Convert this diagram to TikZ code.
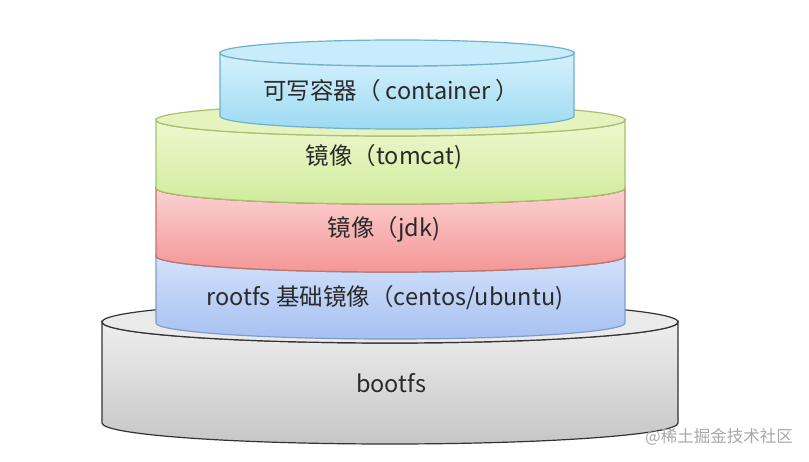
\documentclass[tikz,border=0pt]{standalone}
\usepackage{fontspec}
\setmainfont{Noto Sans CJK SC}
\definecolor{txt}{HTML}{2A2A2A}
\definecolor{wm}{HTML}{A8A8A8}
\definecolor{grayT}{HTML}{EEEEEE}
\definecolor{grayB}{HTML}{C6C6C6}
\definecolor{grayF}{HTML}{EAEAEA}
\definecolor{grayD}{HTML}{333333}
\definecolor{blueT}{HTML}{D3E1FA}
\definecolor{blueB}{HTML}{A6C1F1}
\definecolor{blueD}{HTML}{7E9BCC}
\definecolor{redT}{HTML}{FBD2D2}
\definecolor{redB}{HTML}{F49696}
\definecolor{redD}{HTML}{C07468}
\definecolor{greenT}{HTML}{EEF8CE}
\definecolor{greenB}{HTML}{D0EB9C}
\definecolor{greenF}{HTML}{E5F4BF}
\definecolor{greenD}{HTML}{A9BF72}
\definecolor{cyanT}{HTML}{D6F1FC}
\definecolor{cyanB}{HTML}{9DDAF3}
\definecolor{cyanF}{HTML}{C9ECFA}
\definecolor{cyanD}{HTML}{6FB0CE}
\newcommand\drawcyl[9]{%
  \path[top color=#6,bottom color=#7,draw=#8,line width=1.2pt]
    (#1-#2,#3) -- (#1-#2,#4)
    arc[start angle=180,end angle=0,x radius=#2,y radius=#5]
    -- (#1+#2,#3)
    arc[start angle=0,end angle=180,x radius=#2,y radius=#5] -- cycle;
  \path[fill=#9,draw=#8,line width=1.2pt] (#1,#3) ellipse[x radius=#2,y radius=#5];
}
\tikzset{
  lbl/.style={font=\fontsize{23.5}{28}\selectfont, text=txt, inner sep=0pt},
  wmark/.style={font=\fontsize{16.5}{19}\selectfont, text=wm, inner sep=0pt},
}
\begin{document}
\begin{tikzpicture}[x=1pt,y=-1pt]
\useasboundingbox[fill=white] (0,0) rectangle (809,462);
% bootfs
\drawcyl{390}{288}{322}{423}{21}{grayT}{grayB}{grayD}{grayF}
% rootfs
\drawcyl{390.5}{234.5}{256}{323}{16}{blueT}{blueB}{blueD}{blueT}
% jdk
\drawcyl{390.5}{234.5}{188}{256}{16}{redT}{redB}{redD}{redT}
% tomcat
\drawcyl{390.5}{234.5}{120}{188}{16}{greenT}{greenB}{greenD}{greenF}
% container
\drawcyl{397}{177}{53}{116}{13}{cyanT}{cyanB}{cyanD}{cyanF}
\node[lbl] (tcont) at (391,91) {可写容器（ container ）};
\node[lbl] (ttom) at (384,157) {镜像（tomcat)};
\node[lbl] (tjdk) at (384,229) {镜像（jdk)};
\node[lbl] (troot) at (385,298) {rootfs 基础镜像（centos/ubuntu)};
\node[lbl] (tboot) at (391,383) {bootfs};
\node[wmark] (wmk) at (719,437) {@稀土掘金技术社区};
\end{tikzpicture}
\end{document}
